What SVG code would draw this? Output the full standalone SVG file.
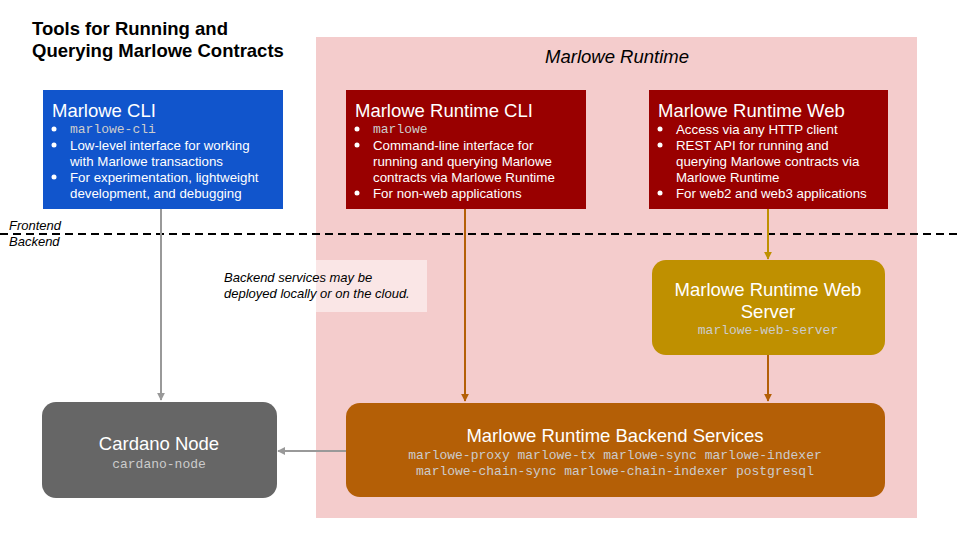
<svg xmlns="http://www.w3.org/2000/svg" width="960" height="540" viewBox="0 0 960 540">
<style>
.t{font-family:"Liberation Sans",Arial,sans-serif;fill:#ffffff}
.h{font-size:18.5px}
.b{font-size:13.3px}
.m{font-family:"Liberation Mono","Courier New",monospace;font-size:13px;fill:#cccccc}
.i{font-family:"Liberation Sans",Arial,sans-serif;font-style:italic;fill:#000000}
.dot{fill:#ffffff}
</style>
<defs>
<marker id="ag" viewBox="0 0 10 10" refX="9" refY="5" markerWidth="4" markerHeight="4" orient="auto" markerUnits="strokeWidth"><path d="M0,0 L10,5 L0,10 z" fill="#999999"/></marker>
<marker id="ao" viewBox="0 0 10 10" refX="9" refY="5" markerWidth="4" markerHeight="4" orient="auto" markerUnits="strokeWidth"><path d="M0,0 L10,5 L0,10 z" fill="#b45f06"/></marker>
<marker id="ay" viewBox="0 0 10 10" refX="9" refY="5" markerWidth="4" markerHeight="4" orient="auto" markerUnits="strokeWidth"><path d="M0,0 L10,5 L0,10 z" fill="#bf9000"/></marker>
</defs>
<rect width="960" height="540" fill="#ffffff"/>
<g id="title">
<text x="32" y="35" font-family="Liberation Sans,Arial,sans-serif" font-weight="bold" font-size="18.5" fill="#000">Tools for Running and</text>
<text x="32" y="57" font-family="Liberation Sans,Arial,sans-serif" font-weight="bold" font-size="18.5" fill="#000">Querying Marlowe Contracts</text>
</g>
<g id="runtime-area">
<rect x="316" y="37" width="601" height="481" fill="#f4cccc"/>
<text class="i" x="617" y="63" font-size="18.5" text-anchor="middle">Marlowe Runtime</text>
</g>
<g id="note">
<rect x="220" y="260" width="207" height="52" fill="#ffffff" fill-opacity="0.5"/>
<text class="i" x="224" y="282" font-size="13">Backend services may be</text>
<text class="i" x="224" y="298" font-size="13">deployed locally or on the cloud.</text>
</g>
<g id="divider">
<line x1="0" y1="234" x2="960" y2="234" stroke="#000" stroke-width="2" stroke-dasharray="8,5"/>
<text class="i" x="9" y="230" font-size="13">Frontend</text>
<text class="i" x="9" y="246" font-size="13">Backend</text>
</g>
<g id="connectors" fill="none" stroke-width="2">
<line x1="161" y1="209" x2="161" y2="400" stroke="#999999" marker-end="url(#ag)"/>
<line x1="346" y1="451" x2="278" y2="451" stroke="#999999" marker-end="url(#ag)"/>
<line x1="465" y1="209" x2="465" y2="401" stroke="#b45f06" marker-end="url(#ao)"/>
<line x1="768" y1="209" x2="768" y2="259" stroke="#bf9000" marker-end="url(#ay)"/>
<line x1="768" y1="355" x2="768" y2="401" stroke="#b45f06" marker-end="url(#ao)"/>
</g>
<g id="marlowe-cli">
<rect x="43" y="90" width="240" height="119" fill="#1155cc"/>
<text class="t h" x="52" y="117">Marlowe CLI</text>
<circle class="dot" cx="54" cy="129" r="2.5"/><text class="m" x="70" y="133">marlowe-cli</text>
<circle class="dot" cx="54" cy="145" r="2.5"/><text class="t b" x="70" y="150">Low-level interface for working</text>
<text class="t b" x="70" y="166">with Marlowe transactions</text>
<circle class="dot" cx="54" cy="177" r="2.5"/><text class="t b" x="70" y="182">For experimentation, lightweight</text>
<text class="t b" x="70" y="198">development, and debugging</text>
</g>
<g id="runtime-cli">
<rect x="346" y="90" width="240" height="119" fill="#990000"/>
<text class="t h" x="355" y="117">Marlowe Runtime CLI</text>
<circle class="dot" cx="357" cy="129" r="2.5"/><text class="m" x="373" y="133">marlowe</text>
<circle class="dot" cx="357" cy="145" r="2.5"/><text class="t b" x="373" y="150">Command-line interface for</text>
<text class="t b" x="373" y="166">running and querying Marlowe</text>
<text class="t b" x="373" y="182">contracts via Marlowe Runtime</text>
<circle class="dot" cx="357" cy="193" r="2.5"/><text class="t b" x="373" y="198">For non-web applications</text>
</g>
<g id="runtime-web">
<rect x="649" y="90" width="239" height="119" fill="#990000"/>
<text class="t h" x="658" y="117">Marlowe Runtime Web</text>
<circle class="dot" cx="660" cy="129" r="2.5"/><text class="t b" x="676" y="134">Access via any HTTP client</text>
<circle class="dot" cx="660" cy="145" r="2.5"/><text class="t b" x="676" y="150">REST API for running and</text>
<text class="t b" x="676" y="166">querying Marlowe contracts via</text>
<text class="t b" x="676" y="182">Marlowe Runtime</text>
<circle class="dot" cx="660" cy="193" r="2.5"/><text class="t b" x="676" y="198">For web2 and web3 applications</text>
</g>
<g id="web-server">
<rect x="652" y="260" width="233" height="95" rx="14" fill="#bf9000"/>
<text class="t h" x="768" y="296" text-anchor="middle">Marlowe Runtime Web</text>
<text class="t h" x="768" y="318" text-anchor="middle">Server</text>
<text class="m" x="768" y="334" text-anchor="middle">marlowe-web-server</text>
</g>
<g id="backend-services">
<rect x="346" y="403" width="539" height="94" rx="14" fill="#b45f06"/>
<text class="t h" x="615" y="442" text-anchor="middle">Marlowe Runtime Backend Services</text>
<text class="m" x="615" y="459" text-anchor="middle" font-size="12.3">marlowe-proxy marlowe-tx marlowe-sync marlowe-indexer</text>
<text class="m" x="615" y="475" text-anchor="middle" font-size="12.3">marlowe-chain-sync marlowe-chain-indexer postgresql</text>
</g>
<g id="cardano-node">
<rect x="42" y="402" width="235" height="96" rx="14" fill="#666666"/>
<text class="t h" x="159" y="450" text-anchor="middle">Cardano Node</text>
<text class="m" x="159" y="468" text-anchor="middle">cardano-node</text>
</g>
</svg>
